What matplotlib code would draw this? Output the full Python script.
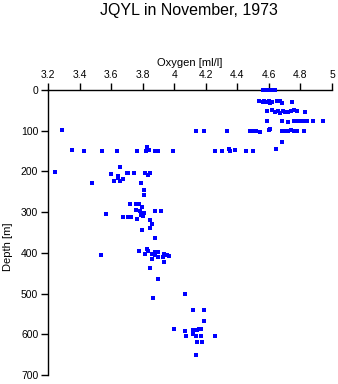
import matplotlib
matplotlib.use("Agg")
import matplotlib.pyplot as plt

plt.rcParams['font.family'] = ['Liberation Sans', 'DejaVu Sans']

title = "JQYL in November, 1973"
x_label = "Oxygen [ml/l]"
y_label = "Depth [m]"
x_ticks = [3.2, 3.4, 3.6, 3.8, 4.0, 4.2, 4.4, 4.6, 4.8, 5.0]
x_tick_labels = ["3.2", "3.4", "3.6", "3.8", "4", "4.2", "4.4", "4.6", "4.8", "5"]
y_ticks = [0, 100, 200, 300, 400, 500, 600, 700]

# oxygen values (ml/l) and depth (m)
oxygen = [
    # surface
    4.56, 4.58, 4.60, 4.62, 4.64,
    # ~30 m
    4.54, 4.56, 4.57, 4.58, 4.60, 4.61, 4.62, 4.65, 4.67, 4.68, 4.745,
    # ~50 m
    4.59, 4.62, 4.64, 4.66, 4.67, 4.69, 4.70, 4.72, 4.74, 4.76, 4.78, 4.83,
    # ~75 m
    4.59, 4.68, 4.72, 4.76, 4.78, 4.80, 4.82, 4.84, 4.88, 4.94,
    # ~100 m
    3.29, 4.14, 4.19, 4.335, 4.48, 4.50, 4.52, 4.545, 4.60, 4.61,
    4.68, 4.70, 4.72, 4.74, 4.76, 4.78, 4.82,
    4.68,
    # ~150 m
    3.35, 3.43, 3.54, 3.64, 3.765, 3.82, 3.83, 3.84, 3.88, 3.90, 3.99,
    4.26, 4.30, 4.347, 4.356, 4.385, 4.455, 4.50, 4.647,
    # 190-330 m
    3.658, 3.246, 3.597, 3.645, 3.645, 3.70, 3.705, 3.746, 3.816, 3.848,
    3.835, 3.677, 3.658, 3.618, 3.476, 3.789, 3.81, 3.808, 3.717, 3.759,
    3.778, 3.797, 3.569, 3.759, 3.785, 3.79, 3.80, 3.81, 3.79, 3.879,
    3.917, 3.677, 3.71, 3.727, 3.765, 3.848, 3.858,
    # 340-470 m
    3.797, 3.848, 3.88, 3.537, 3.778, 3.828, 3.835, 3.816, 3.856, 3.856,
    3.88, 3.898, 3.88, 3.898, 3.928, 3.936, 3.955, 3.966, 3.936, 3.846,
    3.898,
    # 500-660 m
    3.867, 4.067, 4.12, 4.19, 4.19, 3.997, 4.069, 4.118, 4.118, 4.075,
    4.139, 4.147, 4.158, 4.17, 4.168, 4.259, 4.147, 4.177, 4.139,
]
depth = [
    0, 1, 0, 1, 0,
    27, 29, 28, 30, 27, 32, 29, 28, 27, 33, 29,
    52, 50, 53, 51, 56, 52, 54, 53, 51, 50, 52, 55,
    75, 76, 78, 76, 75, 77, 76, 77, 76, 76,
    98, 101, 101, 100, 101, 100, 101, 102, 98, 96,
    100, 100, 101, 99, 100, 100, 100,
    128,
    147, 150, 150, 150, 149, 150, 141, 148, 150, 150, 150,
    150, 150, 145, 150, 148, 149, 150, 146,
    190, 202, 207, 210, 215, 203, 203, 205, 205, 205,
    209, 219, 224, 224, 229, 229, 246, 259, 279, 279,
    281, 288, 305, 295, 296, 305, 310, 303, 308, 296,
    296, 311, 311, 311, 318, 319, 328,
    345, 340, 364, 406, 395, 391, 395, 404, 404, 414,
    399, 399, 405, 410, 409, 402, 406, 408, 423, 438,
    463,
    512, 502, 540, 540, 568, 586, 591, 589, 600, 604,
    604, 590, 588, 588, 603, 604, 618, 620, 652,
]

fig = plt.figure(figsize=(3.38, 3.84), dpi=100)
ax = fig.add_axes([48 / 338, 1 - 375 / 384, 284 / 338, 285 / 384])

ax.plot(oxygen, depth, linestyle="none", marker="s", markersize=2.2,
        color="#0000ff", markeredgewidth=0, clip_on=False, zorder=3)

ax.set_xlim(3.2, 5.0)
ax.set_ylim(700, 0)
ax.xaxis.tick_top()
ax.xaxis.set_label_position("top")
ax.set_xticks(x_ticks)
ax.set_xticklabels(x_tick_labels)
ax.set_yticks(y_ticks)
ax.tick_params(axis="both", labelsize=7.5, length=5, width=1, direction="out", pad=2)

for side in ["right", "bottom"]:
    ax.spines[side].set_visible(False)
for side in ["top", "left"]:
    ax.spines[side].set_linewidth(1)
    ax.spines[side].set_zorder(2)

ax.set_xlabel(x_label, fontsize=8, labelpad=3)
ax.set_ylabel(y_label, fontsize=8)
ax.yaxis.set_label_coords(-0.125, 0.45)

fig.text(189 / 338, 1 - 11 / 384, title, ha="center", va="center", fontsize=11.5)

fig.savefig("out.png", dpi=100)
